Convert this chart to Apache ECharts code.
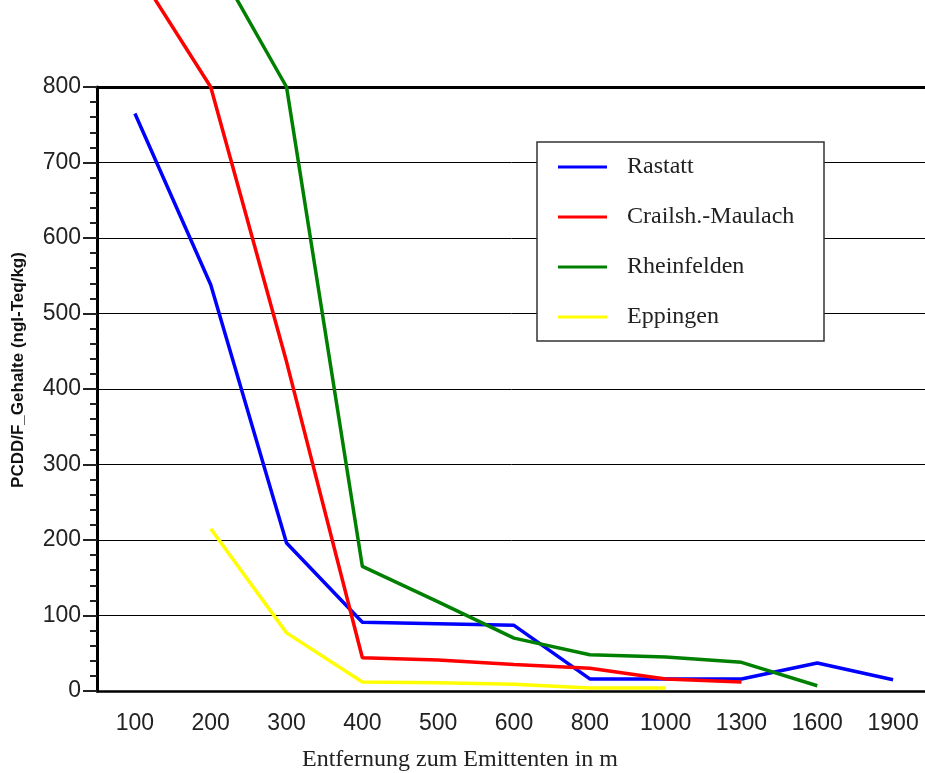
<!DOCTYPE html>
<html>
<head>
<meta charset="utf-8">
<title>PCDD/F Gehalte</title>
<script src="https://cdn.jsdelivr.net/npm/echarts@6/dist/echarts.min.js"></script>
<style>
  html, body { margin: 0; padding: 0; background: #fff; }
  #chart { width: 925px; height: 773px; }
</style>
</head>
<body>
<div id="chart"></div>
<script>
// distance categories (m)
const categories = ['100', '200', '300', '400', '500', '600', '800', '1000', '1300', '1600', '1900']
const yTicks = [0, 100, 200, 300, 400, 500, 600, 700, 800]

// PCDD/F values (ngI-Teq/kg)
const rastatt = [765, 538, 196, 91, 89, 87, 16, 16, 16, 37, 15]
const crailsheim = [958, 800, 436, 44, 41, 35, 30, 16, 12, null, null]
const rheinfelden = [null, 977, 800, 165, 118, 70, 48, 45, 38, 7, null]
const eppingen = [null, 215, 77, 12, 11, 9, 4, 4, null, null, null]

const seriesNames = ['Rastatt', 'Crailsh.-Maulach', 'Rheinfelden', 'Eppingen']
const seriesColors = ['#0000ff', '#ff0000', '#008000', '#ffff00']

const chart = echarts.init(document.getElementById('chart'))

function lineSeries(name, data, color) {
  return {
    name: name,
    type: 'line',
    data: data,
    symbol: 'none',
    clip: false,
    color: color,
    lineStyle: { width: 3.5, color: color },
    z: 3
  }
}

const option = {
  animation: false,
  backgroundColor: '#fff',
  grid: {
    left: 97,
    top: 87,
    width: 834,
    height: 604,
    outerBoundsMode: 'none'
  },
  legend: {
    data: seriesNames,
    orient: 'vertical',
    left: 558,
    top: 155,
    padding: 0,
    itemGap: 26,
    icon: 'rect',
    itemWidth: 49,
    itemHeight: 3,
    z: 20,
    textStyle: {
      fontFamily: 'Liberation Serif',
      fontSize: 24,
      color: '#222',
      padding: [0, 0, 0, 15]
    }
  },
  graphic: [
    {
      type: 'rect',
      z: 15,
      shape: { x: 537, y: 142, width: 287, height: 199 },
      style: { fill: '#fff', stroke: '#333', lineWidth: 1.5 }
    },
    {
      type: 'text',
      x: 18,
      y: 370,
      rotation: Math.PI / 2,
      style: {
        text: 'PCDD/F_Gehalte (ngI-Teq/kg)',
        font: 'bold 17px "Liberation Sans"',
        fill: '#111',
        align: 'center',
        verticalAlign: 'middle'
      }
    },
    {
      type: 'text',
      x: 460,
      y: 760,
      style: {
        text: 'Entfernung zum Emittenten in m',
        font: '24px "Liberation Serif"',
        fill: '#222',
        align: 'center',
        verticalAlign: 'middle'
      }
    }
  ],
  xAxis: [
    {
      type: 'category',
      data: categories,
      boundaryGap: true,
      axisLine: { lineStyle: { color: '#000', width: 2.5 } },
      axisTick: { length: 11, lineStyle: { color: '#222', width: 2 } },
      axisLabel: {
        margin: 21,
        fontFamily: 'Liberation Sans',
        fontSize: 23,
        color: '#222',
        interval: 0
      },
      splitLine: { show: false }
    },
    {
      type: 'category',
      position: 'top',
      data: categories,
      axisLine: { lineStyle: { color: '#000', width: 3 } },
      axisTick: { show: false },
      axisLabel: { show: false },
      splitLine: { show: false }
    }
  ],
  yAxis: {
    type: 'value',
    min: yTicks[0],
    max: yTicks[yTicks.length - 1],
    interval: 100,
    axisLine: { show: true, lineStyle: { color: '#000', width: 3 } },
    axisTick: { show: true, length: 14, lineStyle: { color: '#222', width: 2 } },
    minorTick: { show: true, splitNumber: 5, length: 7, lineStyle: { color: '#222', width: 2 } },
    axisLabel: {
      margin: 16,
      fontFamily: 'Liberation Sans',
      fontSize: 23,
      color: '#222'
    },
    splitLine: { show: true, lineStyle: { color: '#000', width: 1 } }
  },
  series: [
    lineSeries(seriesNames[0], rastatt, seriesColors[0]),
    lineSeries(seriesNames[1], crailsheim, seriesColors[1]),
    lineSeries(seriesNames[2], rheinfelden, seriesColors[2]),
    lineSeries(seriesNames[3], eppingen, seriesColors[3])
  ]
}

chart.setOption(option)
</script>
</body>
</html>
